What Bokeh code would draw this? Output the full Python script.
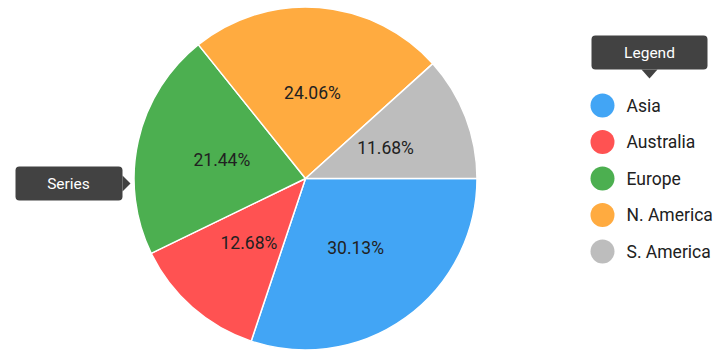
import math
from bokeh.plotting import figure
from bokeh.models import Range1d, ColumnDataSource
from bokeh.core.properties import value
from bokeh.embed import file_html
from bokeh.resources import INLINE

categories = ["Asia", "Australia", "Europe", "N. America", "S. America"]
shares = [30.13, 12.68, 21.44, 24.06, 11.68]
colors = ["#42A5F5", "#FF5252", "#4CAF50", "#FFAB40", "#BDBDBD"]

W, H = 723, 355
FONT = value("Roboto")

p = figure(width=W, height=H, x_range=Range1d(0, W), y_range=Range1d(0, H),
           output_backend="svg", toolbar_location=None, min_border=0)
p.axis.visible = False
p.grid.visible = False
p.outline_line_color = None
p.background_fill_color = "white"
p.border_fill_color = "white"

cx, cy, R = 305, H - 178, 171.5
total = sum(shares)
starts, ends, lx, ly, labels = [], [], [], [], []
cum = 0.0
for s in shares:
    a0 = cum / total * 2 * math.pi
    a1 = (cum + s) / total * 2 * math.pi
    # clockwise from 3 o'clock
    starts.append(-a1)
    ends.append(-a0)
    mid = (a0 + a1) / 2
    lx.append(cx + 0.5 * R * math.cos(mid))
    ly.append(cy - 0.5 * R * math.sin(mid))
    labels.append(f"{s:.2f}%")
    cum += s

src = ColumnDataSource(dict(start=starts, end=ends, color=colors, lx=lx, ly=ly, label=labels))
p.wedge(x=cx, y=cy, radius=R, start_angle="start", end_angle="end", fill_color="color",
        line_color="white", line_width=1.5, source=src)
p.text(x="lx", y="ly", text="label", source=src, text_font=FONT, text_font_size="17.5px",
       text_color="#212121", text_align="center", text_baseline="middle")

# Legend
leg_y = [H - (105 + 36.5 * i) for i in range(len(categories))]
lsrc = ColumnDataSource(dict(y=leg_y, color=colors, name=categories))
p.scatter(x=602, y="y", size=24, fill_color="color", line_color=None, source=lsrc)
p.text(x=626, y="y", text="name", source=lsrc, text_font=FONT, text_font_size="17.5px",
       text_color="#212121", text_align="left", text_baseline="middle")

# Tooltip boxes
box = "#424242"
p.quad(left=[591, 15], right=[707, 122], top=[H - 35, H - 166], bottom=[H - 69, H - 200],
       fill_color=box, line_color=None, border_radius=4)
p.patches(xs=[[641, 657, 649], [122, 122, 130]],
          ys=[[H - 69, H - 69, H - 78], [H - 175, H - 191, H - 183]],
          fill_color=box, line_color=None)
p.text(x=[649, 68], y=[H - 52, H - 183], text=["Legend", "Series"], text_font=FONT,
       text_font_size="15.5px", text_color="white", text_align="center", text_baseline="middle")

open("out.html", "w").write(file_html(p, INLINE))
